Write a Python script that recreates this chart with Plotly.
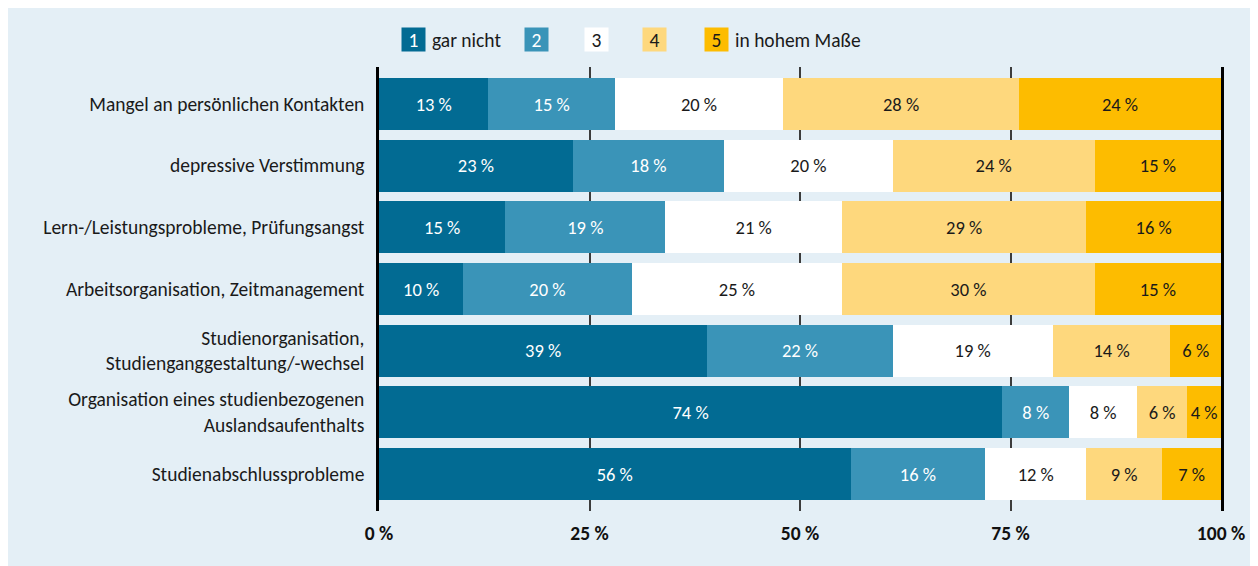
import plotly.graph_objects as go

categories = [
    "Mangel an persönlichen Kontakten",
    "depressive Verstimmung",
    "Lern-/Leistungsprobleme, Prüfungsangst",
    "Arbeitsorganisation, Zeitmanagement",
    "Studienorganisation,<br>Studienganggestaltung/-wechsel",
    "Organisation eines studienbezogenen<br>Auslandsaufenthalts",
    "Studienabschlussprobleme",
]
s1 = [13, 23, 15, 10, 39, 74, 56]
s2 = [15, 18, 19, 20, 22, 8, 16]
s3 = [20, 20, 21, 25, 19, 8, 12]
s4 = [28, 24, 29, 30, 14, 6, 9]
s5 = [24, 15, 16, 15, 6, 4, 7]
series = [s1, s2, s3, s4, s5]
legend_nums = ["1", "2", "3", "4", "5"]
legend_texts = ["gar nicht", "", "", "", "in hohem Maße"]
tick_vals = [0, 25, 50, 75, 100]
tick_text = ["0 %", "25 %", "50 %", "75 %", "100 %"]

colors = ["#026b93", "#3a94b8", "#ffffff", "#fed87d", "#fdbc00"]
text_colors = ["#ffffff", "#ffffff", "#1a1a1a", "#1a1a1a", "#1a1a1a"]
BG = "#e4eff6"
FONT = "Carlito, Lato, sans-serif"
FS = 19.5

# page has an 8px body margin; figure coordinates are shifted accordingly
OFF = 8
W, H = 1258 - OFF, 566 - OFF
L, R, T, B = 379 - OFF, 1221 - OFF, 67 - OFF, 511 - OFF

def px_x(p):
    return (p - OFF - L) / (R - L)

def px_y(p):
    return (B - (p - OFF)) / (B - T)

fig = go.Figure()
for i, vals in enumerate(series):
    fig.add_trace(go.Bar(
        y=categories, x=vals, orientation="h",
        marker=dict(color=colors[i], line=dict(width=0)),
        text=[f"{v} %" for v in vals],
        textposition="inside", insidetextanchor="middle",
        textangle=0, constraintext="none",
        textfont=dict(family=FONT, size=18.5, color=text_colors[i]),
        showlegend=False, hoverinfo="skip",
    ))

# legend built from annotations
sq_centers = [413.5, 536.5, 596.5, 654.5, 716.5]
for i in range(5):
    fig.add_annotation(xref="paper", yref="paper",
                       x=px_x(sq_centers[i]), y=px_y(39.5),
                       text=legend_nums[i], showarrow=False,
                       bgcolor=colors[i], width=21, height=21, borderpad=1,
                       font=dict(family=FONT, size=FS, color=text_colors[i]),
                       xanchor="center", yanchor="middle")
    if legend_texts[i]:
        fig.add_annotation(xref="paper", yref="paper",
                           x=px_x(sq_centers[i] + 16), y=px_y(39.5),
                           text=legend_texts[i], showarrow=False,
                           font=dict(family=FONT, size=FS, color="#1a1a1a"),
                           xanchor="left", yanchor="middle")

fig.update_layout(
    barmode="stack", bargap=0.154,
    width=W, height=H,
    margin=dict(l=L, r=W - R, t=T, b=H - B, pad=0),
    paper_bgcolor=BG, plot_bgcolor=BG,
    font=dict(family=FONT, size=FS, color="#1a1a1a"),
    uniformtext=dict(minsize=18.5, mode="show"),
    xaxis=dict(range=[0, 100], tickvals=tick_vals,
               ticktext=[f"<b>{t}</b>" for t in tick_text],
               showgrid=True, gridcolor="#3c3c3c", gridwidth=1.5,
               zeroline=False, showline=False, ticks="",
               ticklabelstandoff=8,
               tickfont=dict(family=FONT, size=FS, color="#111111"),
               fixedrange=True),
    yaxis=dict(range=[6.6, -0.6], showgrid=False, zeroline=False,
               showline=True, mirror=True, linecolor="#000000", linewidth=2.5,
               ticks="", ticklabelstandoff=8,
               tickfont=dict(family=FONT, size=FS, color="#1a1a1a"),
               fixedrange=True),
)

fig.write_html("out.html")
